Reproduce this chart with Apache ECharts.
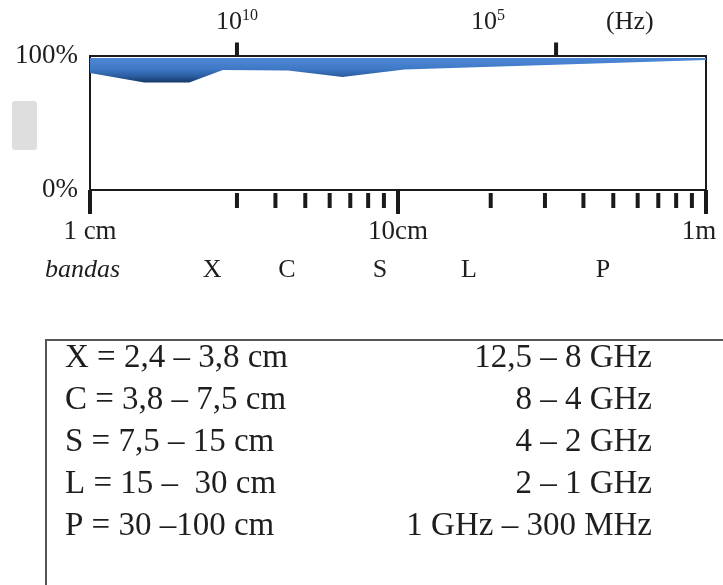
<!DOCTYPE html>
<html>
<head>
<meta charset="utf-8">
<script src="https://cdn.jsdelivr.net/npm/echarts@6/dist/echarts.min.js"></script>
<style>
  html, body { margin: 0; padding: 0; background: #fff; }
  #chart { width: 723px; height: 585px; }
</style>
</head>
<body>
<div id="chart"></div>
<script>
  // wavelength (cm) vs atmospheric transmission (%)
  const wavelengths = [1, 1.5, 2.1, 2.7, 4.4, 6.6, 10.5, 100];
  const lowerEdge = [87.3, 80.2, 80.2, 89.6, 89.2, 84.3, 89.9, 97.0];
  const upperEdge = [98.6, 98.6, 98.6, 98.6, 98.6, 98.6, 98.6, 98.6];

  const majorTicks = [1, 10, 100];
  const minorTicks = [3, 4, 5, 6, 7, 8, 9, 20, 30, 40, 50, 60, 70, 80, 90];
  const freqTicks = [3, 32.6];
  const freqLabels = ['{b|10}{sup|10}', '{b|10}{sup|5}', '{b|(Hz)}'];
  const freqLabelPos = [3, 19.6, 56.6];

  const bandNames = ['X', 'C', 'S', 'L', 'P'];
  const bandLabelPos = [2.49, 4.36, 8.74, 17.0, 46.3];
  const bandRanges = ['X = 2,4 – 3,8 cm', 'C = 3,8 – 7,5 cm', 'S = 7,5 – 15 cm', 'L = 15 –  30 cm', 'P = 30 –100 cm'];
  const bandFreqs = ['12,5 – 8 GHz', '8 – 4 GHz', '4 – 2 GHz', '2 – 1 GHz', '1 GHz – 300 MHz'];

  const serif = 'Liberation Serif';
  const ink = '#1e1e1e';

  const myChart = echarts.init(document.getElementById('chart'));

  const bandFill = new echarts.graphic.LinearGradient(0, 0, 0, 1, [
    { offset: 0, color: '#4d88d6' },
    { offset: 0.45, color: '#3f79c6' },
    { offset: 0.75, color: '#2b5c9f' },
    { offset: 1, color: '#143865' }
  ]);

  // band between upper and lower edge, drawn once as one polygon
  function renderBand(params, api) {
    if (params.dataIndex !== 0) return;
    const points = [];
    wavelengths.forEach((w, i) => points.push(api.coord([w, upperEdge[i]])));
    for (let i = wavelengths.length - 1; i >= 0; i--) {
      points.push(api.coord([wavelengths[i], lowerEdge[i]]));
    }
    return {
      type: 'polygon',
      shape: { points: points },
      style: { fill: bandFill }
    };
  }

  const tableTexts = [];
  bandRanges.forEach((t, i) => {
    tableTexts.push({
      type: 'text', x: 65, y: 358 + 42.2 * i,
      style: { text: t, font: '33px "' + serif + '"', fill: ink, verticalAlign: 'middle' }
    });
    tableTexts.push({
      type: 'text', x: 652, y: 358 + 42.2 * i,
      style: { text: bandFreqs[i], font: '33px "' + serif + '"', fill: ink, align: 'right', verticalAlign: 'middle' }
    });
  });

  const option = {
    animation: false,
    grid: {
      left: 90, right: 17, top: 56, bottom: 395,
      show: true, borderColor: '#1a1a1a', borderWidth: 2
    },
    xAxis: {
      type: 'log',
      logBase: 10,
      min: 1,
      max: 100,
      axisLine: { show: true, lineStyle: { color: '#1a1a1a', width: 2 } },
      axisTick: { show: false },
      splitLine: { show: false },
      axisLabel: {
        margin: 28,
        showMinLabel: true,
        showMaxLabel: true,
        fontFamily: serif,
        fontSize: 27,
        color: ink,
        formatter: v => v == 1 ? '1 cm' : v == 10 ? '10cm' : '{r|1m}',
        rich: { r: { fontFamily: serif, fontSize: 27, color: ink, padding: [0, 14, 0, 0] } }
      }
    },
    yAxis: {
      type: 'value',
      min: 0,
      max: 100,
      interval: 100,
      axisLine: { show: true, lineStyle: { color: '#1a1a1a', width: 2 } },
      axisTick: { show: false },
      splitLine: { show: false },
      axisLabel: {
        margin: 12,
        fontFamily: serif,
        fontSize: 27,
        color: ink,
        formatter: '{value}%'
      }
    },
    series: [
      {
        type: 'custom',
        coordinateSystem: 'cartesian2d',
        renderItem: renderBand,
        encode: { x: 0, y: [1, 2] },
        data: wavelengths.map((w, i) => [w, lowerEdge[i], upperEdge[i]])
      },
      {
        type: 'scatter',
        clip: false,
        symbol: 'rect',
        symbolSize: [4, 24],
        symbolOffset: [0, 12],
        itemStyle: { color: '#1a1a1a', opacity: 1 },
        data: majorTicks.map(v => [v, 0])
      },
      {
        type: 'scatter',
        clip: false,
        symbol: 'rect',
        symbolSize: [4, 15],
        symbolOffset: [0, 10.5],
        itemStyle: { color: '#1a1a1a', opacity: 1 },
        data: minorTicks.map(v => [v, 0])
      },
      {
        type: 'scatter',
        clip: false,
        symbol: 'rect',
        symbolSize: [4, 13],
        symbolOffset: [0, -7],
        itemStyle: { color: '#1a1a1a', opacity: 1 },
        data: freqTicks.map(v => [v, 100])
      },
      {
        type: 'scatter',
        clip: false,
        symbolSize: 0,
        itemStyle: { opacity: 1 },
        label: {
          show: true,
          position: 'inside',
          offset: [0, -34],
          formatter: p => freqLabels[p.dataIndex],
          rich: {
            b: { fontFamily: serif, fontSize: 26, color: ink, lineHeight: 28 },
            sup: { fontFamily: serif, fontSize: 16, color: ink, verticalAlign: 'top', lineHeight: 15 }
          }
        },
        data: freqLabelPos.map(v => [v, 100])
      },
      {
        type: 'scatter',
        clip: false,
        symbolSize: 0,
        itemStyle: { opacity: 1 },
        label: {
          show: true,
          position: 'inside',
          offset: [0, 80],
          fontFamily: serif,
          fontSize: 26,
          color: ink,
          formatter: p => bandNames[p.dataIndex]
        },
        data: bandLabelPos.map(v => [v, 0])
      }
    ],
    graphic: [
      {
        type: 'text', x: 45, y: 270,
        style: { text: 'bandas', font: 'italic 26px "' + serif + '"', fill: ink, verticalAlign: 'middle' }
      },
      {
        type: 'rect',
        shape: { x: 12, y: 101, width: 25, height: 49, r: 3 },
        style: { fill: '#dedede' }
      },
      {
        type: 'rect',
        shape: { x: 46, y: 340, width: 720, height: 300 },
        style: { fill: 'none', stroke: '#555', lineWidth: 2 }
      }
    ].concat(tableTexts)
  };

  myChart.setOption(option);
  window.addEventListener('resize', () => myChart.resize(), false);
</script>
</body>
</html>
